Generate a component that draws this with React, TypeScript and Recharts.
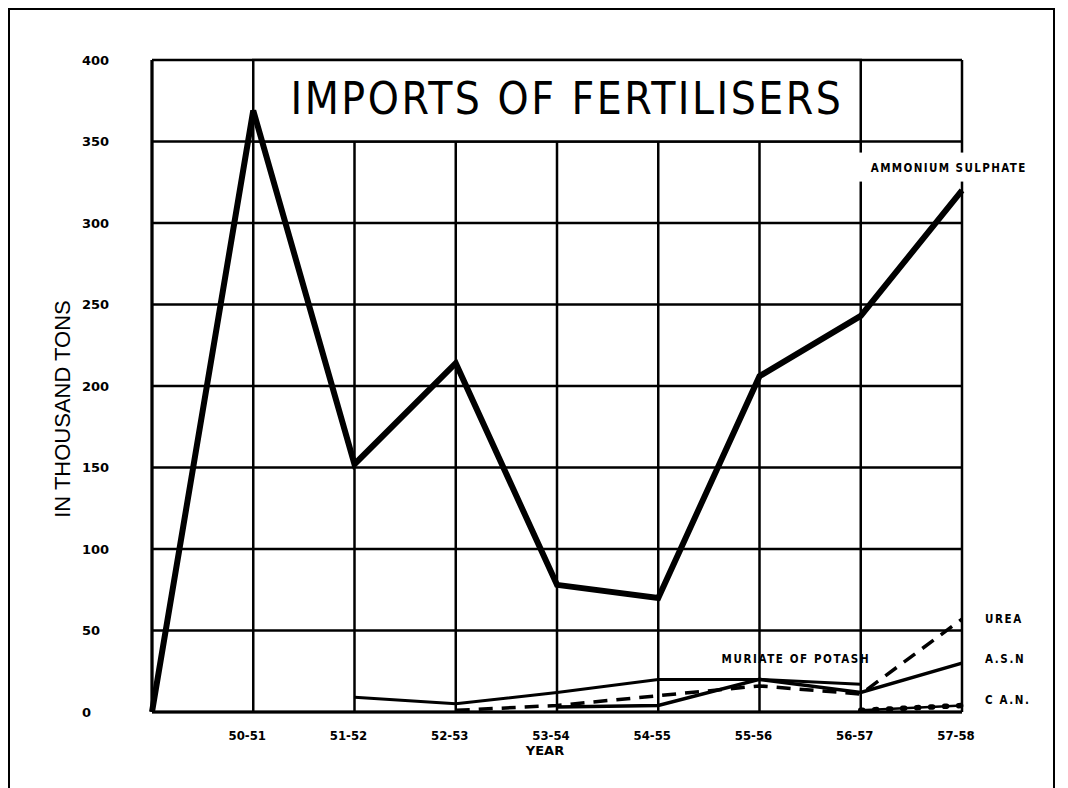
import React from "react";
import { LineChart, Line, XAxis, YAxis, CartesianGrid, ReferenceArea, ReferenceDot } from "recharts";

// values, thousand tons
const years = ["49-50", "50-51", "51-52", "52-53", "53-54", "54-55", "55-56", "56-57", "57-58"];
const ammoniumSulphate = [0, 369, 152, 214, 78, 70, 206, 243, 320];
const muriateOfPotash = [null, null, 9, 5, 12, 20, 20, 17, null];
const urea = [null, null, null, 1, 4, 10, 16, 11, 57];
const asn = [null, null, null, null, 3, 4, 20, 12, 30];
const can = [null, null, null, null, null, null, null, 1, 4];
const yTicks = [0, 50, 100, 150, 200, 250, 300, 350, 400];

const data = years.map((year, i) => ({
    year,
    ammonium: ammoniumSulphate[i],
    muriate: muriateOfPotash[i],
    urea: urea[i],
    asn: asn[i],
    can: can[i],
}));

const INK = "#000";
const tickFont = "'DejaVu Sans', sans-serif";
const condFont = "'DejaVu Sans Condensed', sans-serif";

const YTick = ({ x, y, payload }: any) => (
    <text x={x - 62} y={y} textAnchor="start" dominantBaseline="central" fontFamily={tickFont} fontWeight="bold" fontSize={13} fill={INK}>
        {payload.value}
    </text>
);

const XTick = ({ x, y, payload, index }: any) => {
    if (index === 0) return null;
    return (
        <text x={x - 6} y={y + 20} textAnchor="middle" fontFamily={condFont} fontWeight="bold" fontSize={13} fill={INK}>
            {payload.value}
        </text>
    );
};

const smallLabel = (text: string, at: number, dx: number, dy: number) => (props: any) => {
    if (props.index !== at) return null;
    return (
        <text x={props.x + dx} y={props.y + dy} dominantBaseline="central" fontFamily={condFont} fontWeight="bold" fontSize={11.5} letterSpacing={1.6} fill={INK}>
            {text}
        </text>
    );
};

const last = years.length - 1;

export default function App() {
    return (
        <div style={{ width: 1043, height: 778, borderTop: "2px solid #000", borderLeft: "2px solid #000", borderRight: "2px solid #000", background: "#fff" }}>
            <LineChart width={1043} height={775} data={data} margin={{ top: 50, right: 91, bottom: 43, left: 0 }}>
                <CartesianGrid stroke={INK} strokeWidth={2.5} />
                <XAxis
                    dataKey="year"
                    scale="point"
                    padding={{ left: 0, right: 0 }}
                    axisLine={{ stroke: INK, strokeWidth: 3 }}
                    tickLine={false}
                    tick={<XTick />}
                    interval={0}
                    label={{
                        content: ({ viewBox }: any) => (
                            <text x={viewBox.x + viewBox.width / 2 - 12} y={viewBox.y + 43} textAnchor="middle" fontFamily={tickFont} fontWeight="bold" fontSize={13} fill={INK}>
                                YEAR
                            </text>
                        ),
                    }}
                />
                <YAxis
                    width={142}
                    domain={[0, 400]}
                    ticks={yTicks}
                    axisLine={{ stroke: INK, strokeWidth: 3 }}
                    tickLine={false}
                    tick={<YTick />}
                    label={{
                        content: ({ viewBox }: any) => {
                            const cx = 52;
                            const cy = viewBox.y + viewBox.height / 2 + 23;
                            return (
                                <text x={cx} y={cy} transform={`rotate(-90 ${cx} ${cy})`} textAnchor="middle" dominantBaseline="central" fontFamily="'Liberation Sans', Arial, sans-serif" fontSize={22} fill={INK}>
                                    IN THOUSAND TONS
                                </text>
                            );
                        },
                    }}
                />
                <ReferenceArea
                    x1="50-51"
                    x2="56-57"
                    y1={350}
                    y2={400}
                    fill="#fff"
                    fillOpacity={1}
                    stroke={INK}
                    strokeWidth={2.5}
                    label={{
                        content: ({ viewBox }: any) => (
                            <text x={viewBox.x + viewBox.width / 2 + 10} y={viewBox.y + viewBox.height / 2 - 2} textAnchor="middle" dominantBaseline="central" fontFamily={condFont} fontSize={44} letterSpacing={2.5} fill={INK}>
                                IMPORTS OF FERTILISERS
                            </text>
                        ),
                    }}
                />
                <ReferenceDot
                    x="56-57"
                    y={334}
                    r={0}
                    fill="none"
                    stroke="none"
                    label={{
                        content: ({ viewBox }: any) => (
                            <g>
                                <rect x={viewBox.x - 8} y={viewBox.y - 15} width={190} height={29} fill="#fff" />
                                <text x={viewBox.x + 10} y={viewBox.y} dominantBaseline="central" fontFamily={condFont} fontWeight="bold" fontSize={11.5} letterSpacing={1.4} fill={INK}>
                                    AMMONIUM SULPHATE
                                </text>
                            </g>
                        ),
                    }}
                />
                <Line dataKey="ammonium" stroke={INK} strokeWidth={6} strokeLinejoin="miter" dot={false} type="linear" isAnimationActive={false} />
                <Line dataKey="muriate" stroke={INK} strokeWidth={3} dot={false} type="linear" isAnimationActive={false} label={smallLabel("MURIATE OF POTASH", 6, -38, -20)} />
                <Line dataKey="asn" stroke={INK} strokeWidth={3.5} dot={false} type="linear" isAnimationActive={false} label={smallLabel("A.S.N", last, 23, -4)} />
                <Line dataKey="urea" stroke={INK} strokeWidth={3.5} strokeDasharray="14 9" dot={false} type="linear" isAnimationActive={false} label={smallLabel("UREA", last, 23, 0)} />
                <Line dataKey="can" stroke={INK} strokeWidth={2.5} dot={false} type="linear" isAnimationActive={false} label={smallLabel("C A.N.", last, 23, -5)} />
                <Line dataKey="can" stroke={INK} strokeWidth={5.5} strokeDasharray="2 12" strokeLinecap="round" dot={false} type="linear" isAnimationActive={false} />
            </LineChart>
        </div>
    );
}
